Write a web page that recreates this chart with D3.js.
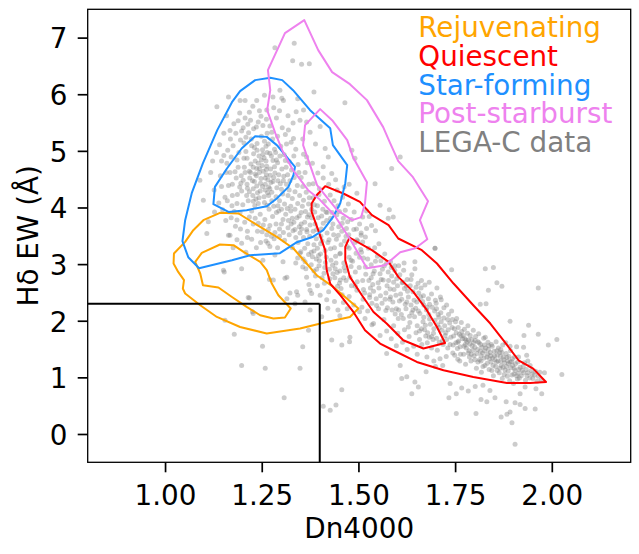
<!DOCTYPE html>
<html><head><meta charset="utf-8">
<script src="https://cdn.jsdelivr.net/npm/d3@7"></script>
<style>body{margin:0;background:#fff}svg{display:block}text{font-family:"DejaVu Sans",sans-serif}</style>
</head><body><svg id="c" width="639" height="554"></svg>
<script>
// ---- axes / ticks ----
const xTicks = [1.00, 1.25, 1.50, 1.75, 2.00];
const yTicks = [0, 1, 2, 3, 4, 5, 6, 7];
const xDomain = [0.8, 2.204];
const yDomain = [-0.5, 7.5];
const xLabel = "Dn4000";
const yLabel = "Hδ EW (Å)";
// selection box: Hδ < 2.3 and Dn4000 < 1.4
const boxDn = 1.4;
const boxHd = 2.3;

// ---- legend ----
const legendLabels = ["Rejuvenating", "Quiescent", "Star-forming", "Post-starburst", "LEGA-C data"];
const legendColors = ["orange", "red", "dodgerblue", "violet", "gray"];

// ---- contours (Dn4000, Hδ EW) ----
const rejuvOuter = [[1.142,3.905],[1.190,3.894],[1.246,3.657],[1.289,3.481],[1.332,3.276],[1.366,3.011],[1.392,2.804],[1.435,2.597],[1.470,2.392],[1.500,2.216],[1.478,2.067],[1.418,1.979],[1.349,1.862],[1.263,1.774],[1.194,1.890],[1.134,2.067],[1.091,2.274],[1.052,2.481],[1.046,2.569],[1.049,2.716],[1.034,2.862],[1.022,3.011],[1.023,3.187],[1.052,3.392],[1.073,3.599],[1.099,3.776]];
const rejuvInner = [[1.142,3.346],[1.177,3.334],[1.203,3.216],[1.246,3.039],[1.263,2.892],[1.276,2.657],[1.293,2.451],[1.325,2.216],[1.310,2.057],[1.280,2.039],[1.246,2.097],[1.211,2.244],[1.173,2.420],[1.138,2.587],[1.098,2.627],[1.091,2.834],[1.078,3.039],[1.095,3.198]];
const quiesOuter = [[1.414,4.376],[1.461,4.247],[1.504,4.099],[1.535,3.864],[1.578,3.687],[1.603,3.452],[1.664,3.246],[1.703,3.011],[1.746,2.657],[1.797,2.274],[1.841,1.951],[1.875,1.655],[1.914,1.302],[1.952,1.155],[1.985,0.919],[1.944,0.901],[1.884,0.901],[1.797,1.007],[1.720,1.125],[1.651,1.272],[1.590,1.479],[1.556,1.597],[1.517,1.832],[1.487,2.155],[1.453,2.451],[1.427,2.657],[1.418,2.892],[1.414,3.246],[1.396,3.599],[1.379,3.922],[1.379,4.071],[1.392,4.217]];
const quiesInner = [[1.477,3.470],[1.535,3.246],[1.578,3.039],[1.603,2.774],[1.642,2.509],[1.677,2.186],[1.703,1.890],[1.724,1.608],[1.668,1.509],[1.616,1.655],[1.573,1.951],[1.539,2.155],[1.509,2.451],[1.478,2.774],[1.466,3.069],[1.466,3.304]];
const sfOuter = [[1.233,6.249],[1.272,6.293],[1.303,6.249],[1.331,6.072],[1.375,5.719],[1.427,5.401],[1.434,5.101],[1.471,4.747],[1.466,4.429],[1.453,4.076],[1.434,3.829],[1.409,3.599],[1.383,3.484],[1.341,3.387],[1.297,3.193],[1.220,3.157],[1.173,3.069],[1.088,2.928],[1.060,3.122],[1.045,3.405],[1.052,3.776],[1.069,4.253],[1.098,4.783],[1.135,5.366],[1.173,5.860],[1.194,6.055]];
const sfInner = [[1.233,5.260],[1.263,5.247],[1.289,5.101],[1.336,4.717],[1.332,4.571],[1.319,4.364],[1.289,4.159],[1.263,4.023],[1.211,3.952],[1.164,3.922],[1.125,4.058],[1.129,4.364],[1.160,4.689],[1.198,5.042]];
const psbOuter = [[1.360,7.309],[1.396,6.779],[1.432,6.390],[1.478,6.178],[1.522,5.896],[1.564,5.419],[1.582,5.136],[1.603,4.818],[1.641,4.535],[1.680,4.111],[1.659,3.776],[1.678,3.440],[1.647,3.281],[1.608,3.210],[1.569,2.981],[1.522,2.928],[1.480,3.422],[1.438,3.864],[1.397,4.160],[1.370,4.306],[1.331,4.659],[1.303,5.012],[1.285,5.313],[1.264,5.719],[1.272,6.072],[1.266,6.426],[1.310,7.080]];
const psbInner = [[1.401,5.737],[1.432,5.542],[1.471,5.189],[1.486,4.889],[1.522,4.447],[1.517,4.076],[1.507,3.829],[1.484,3.776],[1.445,3.952],[1.393,4.394],[1.375,4.747],[1.357,5.101],[1.362,5.454]];
const contourSets = [
  {color: "orange", rings: [rejuvOuter, rejuvInner]},
  {color: "red", rings: [quiesOuter, quiesInner]},
  {color: "dodgerblue", rings: [sfOuter, sfInner]},
  {color: "violet", rings: [psbOuter, psbInner]}
];

// ---- LEGA-C galaxies (Dn4000, Hδ EW) ----
const legacCore = [[1.221,4.62],[1.248,4.51],[1.263,4.73],[1.237,4.38],[1.274,4.44],[1.256,4.88],[1.229,4.95],[1.284,4.61],[1.301,4.32],[1.212,4.41],[1.243,4.17],[1.268,4.21],[1.291,4.79],[1.205,4.71],[1.233,4.82],[1.259,4.31],[1.281,4.02],[1.307,4.55],[1.197,4.56],[1.218,4.28],[1.252,5.02],[1.238,5.13],[1.271,4.96],[1.296,4.12],[1.314,4.41],[1.186,4.84],[1.209,4.99],[1.226,4.47],[1.262,4.58],[1.279,4.83],[1.244,4.69],[1.289,4.35],[1.318,4.21],[1.198,4.29],[1.215,4.12],[1.232,4.03],[1.257,4.09],[1.276,4.27],[1.302,4.68],[1.323,4.47],[1.181,4.63],[1.191,4.97],[1.204,5.14],[1.223,5.21],[1.249,5.26],[1.267,5.12],[1.283,5.03],[1.297,4.91],[1.311,4.83],[1.327,4.66],[1.174,4.41],[1.187,4.23],[1.201,4.05],[1.224,3.94],[1.246,3.88],[1.269,3.97],[1.288,3.91],[1.309,4.06],[1.325,4.02],[1.336,4.28],[1.236,4.56],[1.254,4.64],[1.241,4.78],[1.266,4.49],[1.228,4.71],[1.273,4.68],[1.247,4.43],[1.259,4.41],[1.233,4.59],[1.281,4.53],[1.212,4.87],[1.264,4.97],[1.292,4.47],[1.276,4.12],[1.219,4.52],[1.239,4.26],[1.251,4.74],[1.287,4.19],[1.304,4.24],[1.317,4.58],[1.228,4.33],[1.243,4.91],[1.261,4.82],[1.272,4.57],[1.256,4.19],[1.235,4.15],[1.298,4.42],[1.313,4.71],[1.207,4.62],[1.222,4.77],[1.189,4.71],[1.196,4.43],[1.211,4.21],[1.261,5.08],[1.278,5.21],[1.231,5.06],[1.216,5.32],[1.195,5.19],[1.252,4.37],[1.244,4.62],[1.268,4.36],[1.283,4.72],[1.294,4.58],[1.306,4.47],[1.227,4.21],[1.213,4.34],[1.202,4.48],[1.237,4.69],[1.249,4.84],[1.262,4.67],[1.275,4.91],[1.288,4.84],[1.231,4.46],[1.246,4.29],[1.259,4.52],[1.271,4.33],[1.218,4.64],[1.204,4.87],[1.193,4.36],[1.184,4.52],[1.321,4.31],[1.329,4.16],[1.308,4.93],[1.321,4.81],[1.334,4.53],[1.342,4.39],[1.279,4.46],[1.265,4.26],[1.253,4.94],[1.238,5.01],[1.224,5.09],[1.209,5.24],[1.257,5.17],[1.286,4.97],[1.299,5.08],[1.241,4.07],[1.228,4.11],[1.264,4.04],[1.292,4.03],[1.301,3.97],
[1.312,3.88],[1.326,3.71],[1.331,3.59],[1.318,3.64],[1.341,3.82],[1.347,3.66],[1.305,3.79],[1.296,3.62],[1.336,3.97],[1.352,3.91],[1.321,3.52],[1.338,3.47],[1.309,3.42],[1.287,3.71],[1.278,3.84],[1.361,3.74],[1.349,3.55],[1.329,3.81],[1.316,3.98],[1.294,3.94],[1.366,3.61],[1.372,3.87],[1.284,3.56],[1.271,3.68],[1.343,4.07],[1.358,4.13],[1.301,3.71],[1.325,3.94],[1.333,3.74],[1.319,3.77]];
const legacHalo = [[1.164,5.95],[1.134,5.78],[1.207,5.89],[1.237,5.89],[1.306,5.89],[1.366,5.51],[1.297,6.07],[1.302,5.93],[1.263,5.72],[1.332,5.22],[1.349,5.54],[1.366,4.89],[1.159,5.62],[1.178,5.48],[1.193,5.67],[1.221,5.54],[1.248,5.61],[1.271,5.44],[1.288,5.58],[1.319,5.37],[1.339,5.69],[1.152,5.31],[1.169,5.21],[1.281,5.76],[1.227,5.79],[1.257,5.98],[1.202,5.41],[1.236,5.42],[1.264,5.31],[1.314,5.12],[1.338,5.03],[1.356,5.21],[1.375,5.33],[1.141,5.11],[1.133,4.97],[1.146,4.82],[1.158,4.62],[1.164,4.39],[1.155,4.18],[1.149,3.96],[1.090,4.48],[1.160,4.78],[1.099,4.13],[1.112,3.75],[1.164,3.51],[1.127,4.31],[1.118,4.62],[1.171,3.82],[1.182,3.67],[1.194,3.91],[1.173,4.03],[1.206,3.74],[1.228,3.71],[1.239,3.58],[1.254,3.69],[1.263,3.52],[1.258,3.79],[1.198,3.37],[1.224,3.44],[1.247,3.38],[1.271,3.31],[1.282,3.45],[1.128,3.92],[1.108,3.54],[1.143,4.56],[1.372,4.41],[1.383,4.42],[1.409,4.72],[1.422,4.89],[1.414,5.04],[1.431,4.60],[1.395,4.61],[1.381,4.78],[1.398,4.23],[1.386,4.05],[1.365,4.27],[1.352,4.53],[1.344,4.76],[1.358,4.94],[1.389,5.12],[1.401,5.43],[1.465,5.85],[1.385,6.04],[1.353,6.53],[1.373,6.54],[1.284,6.82],[1.334,6.90],[1.330,6.59],[1.194,5.89],[1.279,5.95],[1.266,3.37],[1.284,3.16],[1.253,3.07],[1.305,3.04],[1.349,3.19],
[1.168,5.36],[1.176,5.09],[1.183,5.31],[1.189,5.53],[1.198,5.35],[1.207,5.58],[1.214,5.47],[1.229,5.39],[1.241,5.51],[1.253,5.45],[1.262,5.56],[1.276,5.33],[1.291,5.26],[1.303,5.41],[1.311,5.29],[1.326,5.15],[1.333,4.91],[1.346,4.62],[1.348,4.21],[1.356,4.37],[1.362,4.62],[1.368,4.79],[1.373,4.17],[1.162,5.01],[1.171,4.89],[1.168,4.62],[1.174,4.21],[1.179,3.93],[1.186,4.07],[1.161,4.12],[1.157,3.77],[1.139,4.08],[1.146,4.37],[1.152,4.92],[1.123,4.82],[1.186,3.78],[1.195,3.62],[1.213,3.58],[1.218,3.83],[1.233,3.81],[1.241,3.72],[1.251,3.57],[1.267,3.61],[1.275,3.49],[1.261,3.41],[1.291,3.29],[1.296,3.49],[1.306,3.56],[1.213,3.47],[1.186,3.43],[1.176,3.29],[1.209,3.21],[1.236,3.29],[1.244,5.71],[1.218,5.68],[1.296,5.71],[1.331,5.49],[1.318,5.62],[1.358,5.72],[1.343,5.92]];
const legacTransition = [[1.362,3.04],[1.366,2.77],[1.378,3.21],[1.391,3.45],[1.404,3.62],[1.418,3.77],[1.432,3.91],[1.447,4.03],[1.383,3.58],[1.396,3.82],[1.408,3.97],[1.421,3.38],[1.436,3.52],[1.449,3.66],[1.461,3.81],[1.375,3.69],[1.387,3.92],[1.369,3.36],[1.358,3.47],[1.351,3.22],[1.402,3.18],[1.415,3.03],[1.428,3.27],[1.441,3.14],[1.455,3.34],[1.468,3.49],[1.476,3.28],[1.488,3.61],[1.462,3.02],[1.452,2.88],[1.439,2.76],[1.425,2.91],[1.411,2.84],[1.398,2.97],[1.385,2.88],[1.472,3.75],[1.489,3.92],[1.503,3.71],[1.496,3.43],[1.481,3.07],[1.506,3.26],[1.518,3.48],[1.383,4.17],[1.399,4.33],[1.412,4.11],[1.427,4.22],[1.445,4.31],[1.459,4.18],[1.474,4.06],[1.556,4.04],[1.580,3.96],[1.496,4.25],[1.543,4.42],[1.483,5.01],[1.491,4.87],[1.586,4.69],[1.608,4.89],[1.577,3.81],[1.590,3.83],[1.343,3.11],[1.356,2.95],[1.372,2.64],[1.394,2.62],[1.329,3.29],[1.338,3.02],[1.521,3.94],[1.534,3.68],[1.528,3.84],[1.544,3.59],[1.513,3.11],[1.431,3.63],[1.443,3.44],[1.457,3.58],[1.419,3.55],[1.406,3.41],[1.394,3.28],[1.381,3.13],[1.367,3.57],[1.388,3.71],[1.352,3.71],[1.412,2.66],[1.423,2.51],[1.434,2.83],[1.446,2.61],[1.458,2.46],[1.466,2.88],[1.471,2.21],[1.452,2.09],[1.438,2.34],[1.421,2.22],[1.413,2.94],[1.402,3.36],[1.391,3.09],[1.389,2.79],[1.442,3.02],[1.481,2.96],[1.492,2.61],[1.512,2.38],[1.524,2.17],[1.533,2.76],
[1.336,3.61],[1.344,3.38],[1.353,3.62],[1.361,3.28],[1.368,3.83],[1.374,3.49],[1.379,3.97],[1.385,3.34],[1.392,3.61],[1.397,3.15],[1.403,3.49],[1.409,3.72],[1.414,3.24],[1.419,3.91],[1.424,3.43],[1.429,3.07],[1.434,3.71],[1.438,3.29],[1.444,3.87],[1.448,3.51],[1.453,3.19],[1.458,3.72],[1.464,3.41],[1.469,3.63],[1.475,3.52],[1.357,3.09],[1.364,2.92],[1.371,3.17],[1.378,2.99],[1.385,3.23],[1.392,2.91],[1.399,3.06],[1.406,2.76],[1.417,3.12],[1.426,2.74],[1.433,2.98],[1.445,2.85],[1.451,2.66],[1.462,2.76],[1.347,3.85],[1.355,4.02],[1.363,3.93],[1.371,4.06],[1.379,3.82],[1.394,4.03],[1.405,3.85],[1.416,3.92],[1.428,3.81],[1.437,4.12],[1.451,3.93],[1.466,3.95],[1.482,3.79],[1.495,3.62],[1.507,3.55],[1.511,3.83],[1.463,4.36],[1.476,4.41],[1.441,4.49],[1.423,4.41],[1.409,4.52]];
const legacRidgeUpper = [[1.492,2.86],[1.503,3.12],[1.511,2.71],[1.518,2.95],[1.526,3.28],[1.531,2.58],[1.538,2.83],[1.544,3.05],[1.551,2.67],[1.557,2.44],[1.562,2.91],[1.568,3.18],[1.574,2.62],[1.581,2.38],[1.586,2.79],[1.592,2.55],[1.598,2.21],[1.604,2.97],[1.609,2.47],[1.615,2.68],[1.621,2.29],[1.627,2.52],[1.632,2.08],[1.638,2.81],[1.644,2.36],[1.649,2.59],[1.655,2.17],[1.661,2.42],[1.667,1.98],[1.672,2.63],[1.678,2.24],[1.684,2.03],[1.689,2.47],[1.695,1.86],[1.701,2.31],[1.706,2.11],[1.498,3.41],[1.507,3.51],[1.521,3.63],[1.529,2.41],[1.547,2.27],[1.553,3.36],[1.571,2.18],[1.583,3.04],[1.594,2.89],[1.611,2.11],[1.618,3.02],[1.629,1.89],[1.636,2.73],[1.646,2.92],[1.658,1.82],[1.663,2.71],[1.674,1.73],[1.683,2.68],[1.693,1.67],[1.703,2.58],[1.482,2.62],[1.476,2.43],[1.468,2.71],[1.455,2.57],[1.461,2.32],[1.447,2.19],[1.488,2.28],[1.503,2.16],[1.517,2.04],[1.535,1.93],[1.516,2.49],[1.539,2.52],[1.559,2.73],[1.577,2.86],[1.599,2.74],[1.606,2.35],[1.624,2.61],[1.641,2.19],[1.651,2.33],[1.669,2.28],[1.681,2.39],[1.697,2.17],[1.712,2.42],[1.721,2.23],[1.646,3.04],[1.698,3.28],[1.652,1.41],[1.664,1.58],[1.677,1.36],[1.689,1.52],[1.695,1.29],[1.683,1.71],[1.671,1.84],[1.658,1.67],[1.643,1.55],[1.631,1.72],[1.619,1.84],[1.626,1.49],[1.614,1.62],[1.602,1.78],[1.591,1.91],[1.598,1.56],[1.585,1.68],[1.573,1.82],[1.566,2.02],[1.704,1.48],[1.711,1.33],[1.699,1.19],[1.718,1.21],[1.727,1.37],
[1.452,3.18],[1.463,2.94],[1.471,3.31],[1.478,2.77],[1.485,3.05],[1.491,3.38],[1.497,2.69],[1.502,2.94],[1.508,3.21],[1.513,2.55],[1.519,2.82],[1.524,3.09],[1.529,2.46],[1.533,2.99],[1.537,2.64],[1.541,2.88],[1.546,2.39],[1.549,3.14],[1.553,2.58],[1.556,2.83],[1.561,2.31],[1.564,2.72],[1.567,2.97],[1.571,2.49],[1.575,2.23],[1.578,2.71],[1.582,2.56],[1.585,2.94],[1.589,2.33],[1.591,2.68],[1.595,2.12],[1.597,2.45],[1.601,2.62],[1.604,2.19],[1.607,2.81],[1.612,2.38],[1.616,2.04],[1.619,2.57],[1.623,2.21],[1.626,2.73],[1.629,2.42],[1.633,1.97],[1.636,2.28],[1.641,2.51],[1.645,2.07],[1.648,2.22],[1.652,1.91],[1.656,2.49],[1.659,2.13],[1.663,1.86],[1.666,2.34],[1.669,2.06],[1.673,1.92],[1.676,2.19],[1.679,1.79],[1.682,2.11],[1.686,1.94],[1.691,2.24],[1.694,1.78],[1.698,2.01],[1.702,1.69],[1.705,1.93],[1.709,1.62],[1.713,2.14],[1.542,3.29],[1.558,3.06],[1.573,3.02],[1.587,2.19],[1.603,2.04],[1.617,2.89],[1.634,2.62],[1.649,1.79],[1.662,2.58],[1.678,1.61],[1.689,1.72],[1.476,3.12],[1.494,3.19],[1.511,3.39],[1.527,2.71],[1.535,2.31],[1.552,2.21],[1.569,2.38],[1.583,2.42],[1.594,2.97],[1.613,2.67],[1.625,2.33],[1.638,2.14],[1.654,2.66],[1.668,2.44],[1.684,2.29],[1.699,2.36],[1.714,1.98]];
const legacRidgeLower = [[1.702,2.21],[1.709,1.88],[1.714,2.37],[1.717,1.64],[1.721,2.05],[1.726,1.79],[1.728,2.28],[1.731,1.52],[1.736,1.96],[1.739,1.71],[1.741,2.17],[1.744,1.43],[1.748,1.86],[1.752,1.61],[1.754,2.04],[1.757,1.32],[1.761,1.76],[1.763,1.54],[1.766,1.97],[1.769,1.68],[1.772,1.41],[1.774,1.85],[1.777,1.23],[1.781,1.62],[1.783,1.91],[1.786,1.47],[1.789,1.74],[1.791,1.29],[1.794,1.56],[1.797,1.83],[1.799,1.38],[1.802,1.65],[1.805,1.16],[1.808,1.49],[1.811,1.77],[1.813,1.31],[1.816,1.58],[1.818,1.09],[1.821,1.43],[1.824,1.69],[1.827,1.21],[1.829,1.52],[1.832,1.36],[1.835,1.62],[1.838,1.14],[1.841,1.44],[1.843,1.27],[1.846,1.55],[1.849,1.03],[1.852,1.38],[1.855,1.19],[1.858,1.47],[1.861,1.29],[1.864,1.08],[1.867,1.37],[1.869,1.21],[1.872,0.98],[1.876,1.31],[1.879,1.13],[1.882,1.42],[1.885,1.02],[1.888,1.24],[1.891,0.94],[1.894,1.17],[1.898,1.33],[1.902,1.06],[1.906,1.24],[1.911,0.97],[1.915,1.14],[1.921,1.03],[1.926,1.19],[1.932,0.95],[1.938,1.08],[1.944,1.21],[1.951,0.98],[1.958,1.11],[1.965,1.02],[1.973,0.96],[1.981,1.08],[1.938,1.29],[1.737,1.58],[1.749,1.39],[1.758,1.88],[1.771,1.74],[1.779,1.52],[1.787,1.36],[1.793,1.67],[1.806,1.42],[1.812,1.61],[1.826,1.47],[1.833,1.25],[1.844,1.58],[1.853,1.31],[1.862,1.52],[1.871,1.44],[1.878,1.26],[1.887,1.11],[1.896,1.28],[1.905,1.12],[1.914,1.36],[1.723,1.91],[1.733,2.11],[1.746,1.73],[1.756,1.51],[1.767,1.81],[1.778,1.66],[1.784,1.43],[1.796,1.48],[1.803,1.72],[1.817,1.38],[1.822,1.19],[1.836,1.49],[1.847,1.34],[1.856,1.63],[1.866,1.16],[1.873,1.57],[1.884,1.35],[1.893,1.47],[1.901,0.89],[1.909,1.03],[1.716,1.83],[1.728,1.67],[1.743,2.02],[1.759,1.64],[1.764,1.41],[1.776,1.58],[1.782,1.78],[1.798,1.61],[1.809,1.27],[1.819,1.53],[1.828,1.71],[1.839,1.33],[1.848,1.21],[1.859,1.39],[1.868,1.49],[1.877,1.05],[1.889,1.37],[1.899,1.21],[1.912,1.27],[1.927,1.08],[1.708,2.06],[1.719,1.58],[1.732,1.84],[1.745,1.57],[1.753,1.79],[1.762,1.29],[1.773,1.55],[1.788,1.59],[1.801,1.31],[1.815,1.46],[1.825,1.34],[1.837,1.56],[1.845,1.12],[1.857,1.27],[1.865,1.44],[1.874,1.18],[1.886,1.29],[1.897,1.04],[1.918,1.18],[1.934,1.14],[1.943,0.99],[1.955,1.04],[1.962,0.93],[1.969,1.09],[1.947,1.12],[1.929,1.26],[1.916,0.99],[1.904,1.36],[1.892,1.55],[1.881,1.61],
[1.724,1.74],[1.731,2.02],[1.742,1.88],[1.751,1.98],[1.757,1.62],[1.765,1.73],[1.775,1.68],[1.785,1.66],[1.792,1.41],[1.801,1.53],[1.809,1.63],[1.817,1.29],[1.826,1.57],[1.834,1.41],[1.842,1.38],[1.851,1.46],[1.859,1.12],[1.868,1.29],[1.875,1.36],[1.883,1.19],[1.892,1.27],[1.903,1.16],[1.913,1.07],[1.923,1.12],[1.936,1.03],[1.949,1.06]];
const legacSparse = [[1.698,3.28],[1.828,2.92],[1.849,2.94],[1.741,2.90],[1.858,2.67],[1.871,2.61],[1.836,2.54],[1.965,2.58],[1.815,2.29],[1.830,2.30],[1.892,1.99],[1.940,1.92],[1.965,1.76],[2.013,1.67],[1.991,1.57],[1.928,1.74],[1.909,1.54],[1.927,1.53],[1.935,1.39],[2.026,1.05],[1.853,0.64],[1.832,0.57],[1.817,0.61],[1.804,0.36],[1.753,0.36],[1.734,0.64],[1.753,0.71],[1.767,0.81],[1.784,0.76],[1.802,0.84],[1.822,0.86],[1.840,0.77],[1.931,0.83],[1.918,0.71],[1.957,0.44],[1.931,0.45],[1.918,0.52],[1.905,0.55],[1.882,0.57],[1.892,0.39],[1.884,0.35],[1.869,0.30],[1.897,0.20],[1.959,0.80],[1.974,0.71],[1.905,-0.18],[1.638,0.71],[1.646,0.92],[1.655,0.83],[1.625,1.01],[1.612,0.98],[1.675,1.10],[1.737,0.89],[1.608,1.21],[1.573,1.42],[1.539,1.95],[1.556,1.74],[1.509,2.24],[1.496,2.54],[1.440,2.92],[1.453,2.72],[1.375,2.54],[1.401,2.45],[1.375,2.19],[1.431,1.66],[1.478,1.71],[1.457,0.78],[1.427,0.42],[1.442,0.51],[1.409,0.49],[1.457,1.57],[1.371,1.83],[1.168,3.51],[1.151,2.89],[1.198,2.92],[1.215,2.41],[1.228,2.13],[1.155,2.01],[1.179,1.76],[1.252,1.55],[1.356,1.54],[1.349,1.16],[1.198,1.21],[1.259,1.16],[1.310,2.75],[1.280,2.72],[1.340,2.51],[1.379,2.48],[1.315,2.39],[1.418,2.37],[1.405,2.07],[1.477,1.63],[1.308,0.64],[1.153,2.86],[1.270,2.73],[1.323,2.49],[1.343,2.45],[1.362,2.33],[1.336,2.30],[1.218,2.40],[1.226,2.16],[1.315,2.77]];
const legacGroups = [legacCore, legacHalo, legacTransition, legacRidgeUpper, legacRidgeLower, legacSparse];

// ---- drawing ----
const plot = {left: 87.7, top: 9.3, right: 630.7, bottom: 462.3};
const FONT = 27.8;
const svg = d3.select("#c");
const x = d3.scaleLinear().domain(xDomain).range([plot.left, plot.right]);
const y = d3.scaleLinear().domain(yDomain).range([plot.bottom, plot.top]);

svg.append("defs").append("clipPath").attr("id", "clip")
  .append("rect").attr("x", plot.left).attr("y", plot.top)
  .attr("width", plot.right - plot.left).attr("height", plot.bottom - plot.top);

const inner = svg.append("g").attr("clip-path", "url(#clip)");

const allPts = legacGroups.flat();
inner.append("g").selectAll("circle").data(allPts).join("circle")
  .attr("cx", d => x(d[0])).attr("cy", d => y(d[1])).attr("r", 2.5)
  .attr("fill", "#808080").attr("fill-opacity", 0.4);

const ringLine = d3.line().x(d => x(d[0])).y(d => y(d[1])).curve(d3.curveLinearClosed);
contourSets.forEach(s => {
  s.rings.forEach(r => {
    inner.append("path").attr("d", ringLine(r)).attr("fill", "none")
      .attr("stroke", s.color).attr("stroke-width", 2).attr("stroke-linejoin", "round");
  });
});

// selection box lines
inner.append("line").attr("x1", x(xDomain[0])).attr("x2", x(boxDn))
  .attr("y1", y(boxHd)).attr("y2", y(boxHd)).attr("stroke", "black").attr("stroke-width", 2);
inner.append("line").attr("x1", x(boxDn)).attr("x2", x(boxDn))
  .attr("y1", y(boxHd)).attr("y2", y(yDomain[0])).attr("stroke", "black").attr("stroke-width", 2);

// frame
svg.append("rect").attr("x", plot.left).attr("y", plot.top)
  .attr("width", plot.right - plot.left).attr("height", plot.bottom - plot.top)
  .attr("fill", "none").attr("stroke", "black").attr("stroke-width", 1.3);

// axes
const gx = svg.append("g").attr("transform", `translate(0,${plot.bottom})`)
  .call(d3.axisBottom(x).tickValues(xTicks).tickFormat(d3.format(".2f")).tickSize(10).tickSizeOuter(0));
gx.select(".domain").remove();
gx.selectAll(".tick line").attr("stroke-width", 1.7);
gx.selectAll(".tick text").attr("y", 42.7).attr("dy", null)
  .attr("font-size", FONT).attr("font-family", "DejaVu Sans").attr("fill", "black");

const gy = svg.append("g").attr("transform", `translate(${plot.left},0)`)
  .call(d3.axisLeft(y).tickValues(yTicks).tickFormat(d3.format("d")).tickSize(10).tickPadding(10.3).tickSizeOuter(0));
gy.select(".domain").remove();
gy.selectAll(".tick line").attr("stroke-width", 1.7);
gy.selectAll(".tick text").attr("dy", "0.37em")
  .attr("font-size", FONT).attr("font-family", "DejaVu Sans").attr("fill", "black");

svg.append("text").attr("x", (plot.left + plot.right) / 2).attr("y", 538.3)
  .attr("text-anchor", "middle").attr("font-size", FONT).text(xLabel);
svg.append("text").attr("transform", `translate(38.3,${(plot.top + plot.bottom) / 2}) rotate(-90)`)
  .attr("text-anchor", "middle").attr("font-size", FONT).text(yLabel);

// legend
svg.append("g").selectAll("text").data(legendLabels).join("text")
  .attr("x", 418.3).attr("y", (d, i) => 37.3 + i * 28.6)
  .attr("font-size", FONT).attr("fill", (d, i) => legendColors[i]).text(d => d);
</script></body></html>
